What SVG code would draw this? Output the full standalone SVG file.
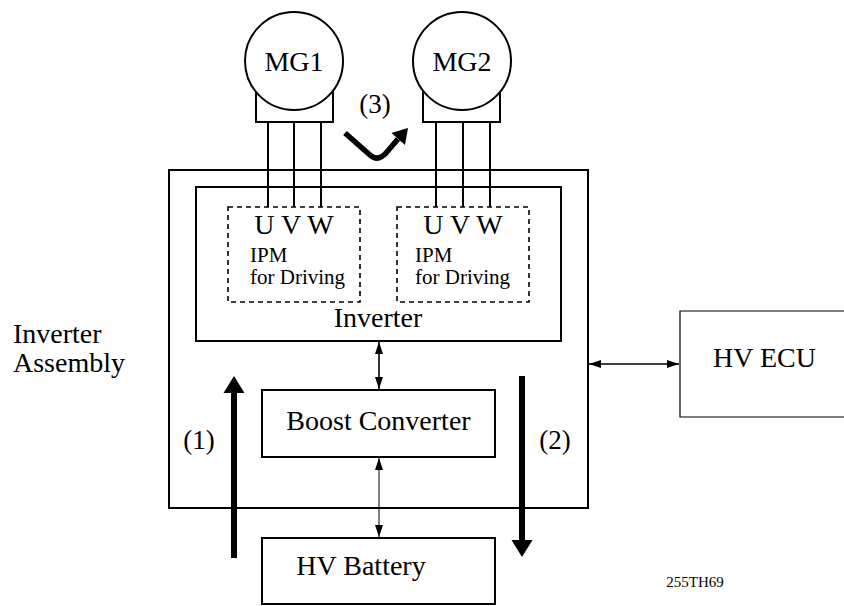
<svg xmlns="http://www.w3.org/2000/svg" width="844" height="606" viewBox="0 0 844 606">
<defs>
<style>
text{font-family:"Liberation Serif","Times New Roman",serif;fill:#000}
.box{fill:#fff;stroke:#000;stroke-width:2}
.dash{fill:none;stroke:#000;stroke-width:1.6;stroke-dasharray:5,4}
.wire{stroke:#000;stroke-width:2;fill:none}
.big{font-size:28px}
.mid{font-size:21px}
.num{font-size:27px}
</style>
<marker id="ah" viewBox="0 0 12 8" refX="12" refY="4" markerWidth="12" markerHeight="8" markerUnits="userSpaceOnUse" orient="auto-start-reverse">
<path d="M0,0 L12,4 L0,8 Z" fill="#000"/>
</marker>
</defs>
<rect width="844" height="606" fill="#fff"/>

<g id="assembly">
<rect class="box" x="169" y="170" width="419" height="338"/>
<text class="big" x="13" y="343">Inverter</text>
<text class="big" x="13" y="372">Assembly</text>
</g>

<g id="inverter">
<rect class="box" x="196" y="187" width="365" height="154"/>
<text class="big" x="378" y="327" text-anchor="middle">Inverter</text>
</g>

<g id="ipm1">
<rect class="dash" x="228" y="207" width="132" height="95"/>
<text class="big" x="294" y="234" text-anchor="middle">U V W</text>
<text class="mid" x="250" y="262">IPM</text>
<text class="mid" x="250" y="284">for Driving</text>
</g>

<g id="ipm2">
<rect class="dash" x="397" y="207" width="132" height="95"/>
<text class="big" x="463" y="234" text-anchor="middle">U V W</text>
<text class="mid" x="415" y="262">IPM</text>
<text class="mid" x="415" y="284">for Driving</text>
</g>

<g id="mg1">
<rect class="box" x="256" y="88" width="77" height="34"/>
<circle class="box" cx="294" cy="61" r="49"/>
<text class="big" x="294" y="71" text-anchor="middle">MG1</text>
</g>

<g id="mg2">
<rect class="box" x="423" y="88" width="77" height="34"/>
<circle class="box" cx="462" cy="61" r="49"/>
<text class="big" x="462" y="71" text-anchor="middle">MG2</text>
</g>

<g id="boost">
<rect class="box" x="262" y="390" width="233" height="67"/>
<text class="big" x="378.5" y="430" text-anchor="middle">Boost Converter</text>
</g>

<g id="battery">
<rect class="box" x="262" y="538" width="233" height="66"/>
<text class="big" x="361" y="575" text-anchor="middle">HV Battery</text>
</g>

<g id="ecu">
<path d="M850,311 H680 V417 H850" fill="#fff" stroke="#000" stroke-width="1.2"/>
<text class="big" x="713" y="367">HV ECU</text>
</g>

<g id="connectors">
<line class="wire" x1="268" y1="122" x2="268" y2="207"/>
<line class="wire" x1="294" y1="122" x2="294" y2="207"/>
<line class="wire" x1="321" y1="122" x2="321" y2="207"/>
<line class="wire" x1="436" y1="122" x2="436" y2="207"/>
<line class="wire" x1="463" y1="122" x2="463" y2="207"/>
<line class="wire" x1="490" y1="122" x2="490" y2="207"/>

<line x1="379" y1="342" x2="379" y2="389" stroke="#000" stroke-width="1.6" marker-start="url(#ah)" marker-end="url(#ah)"/>
<line x1="379" y1="458" x2="379" y2="537" stroke="#000" stroke-width="1" marker-start="url(#ah)" marker-end="url(#ah)"/>
<line x1="589" y1="364" x2="679" y2="364" stroke="#000" stroke-width="1.6" marker-start="url(#ah)" marker-end="url(#ah)"/>

<line x1="234" y1="558" x2="234" y2="390" stroke="#000" stroke-width="6"/>
<path d="M223.5,393 L234,376 L244.5,393 Z" fill="#000"/>
<line x1="522" y1="376" x2="522" y2="542" stroke="#000" stroke-width="6"/>
<path d="M511.5,540 L522,557 L532.5,540 Z" fill="#000"/>

<path d="M345,133 L370,155 Q378,162 386,153 L398,139" fill="none" stroke="#000" stroke-width="5.5" stroke-linejoin="round"/>
<path d="M408,128 L405,145 L391.5,133 Z" fill="#000"/>
</g>

<g id="labels">
<text class="num" x="199" y="449" text-anchor="middle">(1)</text>
<text class="num" x="555" y="449" text-anchor="middle">(2)</text>
<text class="num" x="375" y="113" text-anchor="middle">(3)</text>
<text x="695" y="587" text-anchor="middle" style="font-size:15px">255TH69</text>
</g>
</svg>
